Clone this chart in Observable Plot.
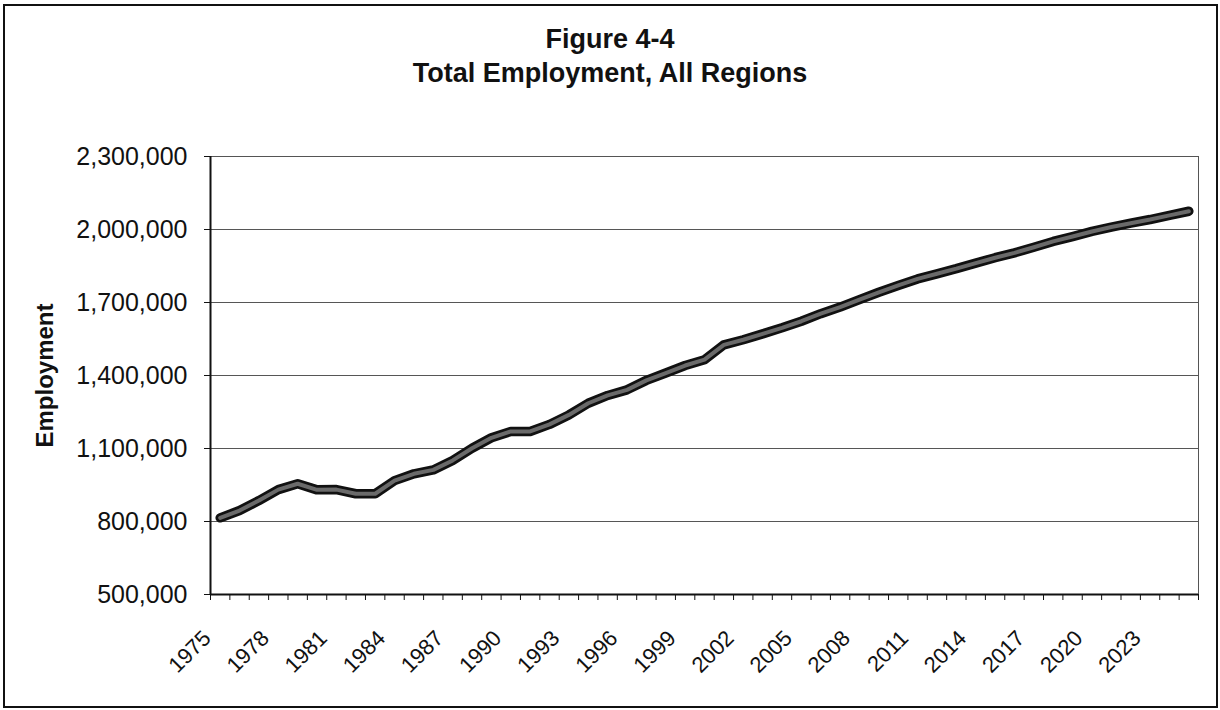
<!DOCTYPE html>
<html>
<head>
<meta charset="utf-8">
<script src="https://cdn.jsdelivr.net/npm/d3@7"></script>
<script src="https://cdn.jsdelivr.net/npm/@observablehq/plot@0.6"></script>
<style>
  html, body { margin: 0; padding: 0; background: #fff; }
  #wrap { position: relative; width: 1220px; height: 710px; overflow: hidden; font-family: "Liberation Sans", Arial, sans-serif; }
  #border { position: absolute; left: 3px; top: 4px; width: 1211px; height: 700px; border: 2px solid #111; }
  #title { position: absolute; left: 0; top: 22px; width: 1220px; text-align: center; font-weight: bold; font-size: 27px; line-height: 34px; color: #111; }
  #chart { position: absolute; left: 0; top: 110px; }
</style>
</head>
<body>
<div id="wrap">
  <div id="border"></div>
  <div id="title">Figure 4-4<br>Total Employment, All Regions</div>
  <div id="chart"></div>
</div>
<script>
const years = [1975,1976,1977,1978,1979,1980,1981,1982,1983,1984,1985,1986,1987,1988,1989,1990,1991,1992,1993,1994,1995,1996,1997,1998,1999,2000,2001,2002,2003,2004,2005,2006,2007,2008,2009,2010,2011,2012,2013,2014,2015,2016,2017,2018,2019,2020,2021,2022,2023,2024,2025];
const employment = [815000,845000,886000,931000,955000,930000,931000,914000,914000,968000,996000,1012000,1051000,1101000,1144000,1170000,1170000,1199000,1238000,1286000,1318000,1341000,1380000,1410000,1441000,1465000,1526000,1547000,1571000,1596000,1623000,1654000,1681000,1712000,1742000,1770000,1797000,1818000,1839000,1862000,1884000,1904000,1927000,1951000,1971000,1992000,2010000,2026000,2041000,2058000,2075000];
const yTicks = [500000,800000,1100000,1400000,1700000,2000000,2300000];
const xLabelYears = [1975,1978,1981,1984,1987,1990,1993,1996,1999,2002,2005,2008,2011,2014,2017,2020,2023];
const yLabel = "Employment";

const data = years.map((y, i) => ({year: y, value: employment[i]}));
// category boundaries (Excel-style ticks between categories)
const boundaries = years.map(y => y - 0.5).concat([years[years.length - 1] + 0.5]);
const xDomain = [boundaries[0], boundaries[boundaries.length - 1]];
const yDomain = [yTicks[0], yTicks[yTicks.length - 1]];
const font = "Liberation Sans, Arial, sans-serif";

const chart = Plot.plot({
  width: 1220,
  height: 600,
  marginTop: 46,
  marginBottom: 116,
  marginLeft: 210,
  marginRight: 22,
  style: {fontFamily: font, color: "#111", background: "transparent", overflow: "visible"},
  x: {type: "linear", domain: xDomain},
  y: {type: "linear", domain: yDomain},
  marks: [
    Plot.gridY(yTicks, {stroke: "#444", strokeOpacity: 0.9, strokeWidth: 1}),
    Plot.frame({stroke: "#555", strokeWidth: 1}),
    Plot.axisY(yTicks, {
      tickSize: 6, tickPadding: 17, tickFormat: d3.format(","),
      fontSize: 25, label: null, stroke: "#111", fill: "#111"
    }),
    Plot.axisX(boundaries, {tickSize: 6, tickFormat: () => "", label: null, stroke: "#111"}),
    Plot.ruleX([xDomain[0]], {stroke: "#111", strokeWidth: 2}),
    Plot.ruleY([yDomain[0]], {stroke: "#111", strokeWidth: 2}),
    Plot.text(xLabelYears, {
      x: d => d, text: d => String(d), frameAnchor: "bottom", dy: 45, dx: -8, rotate: -45,
      textAnchor: "end", lineAnchor: "bottom", fontSize: 22, fill: "#111"
    }),
    Plot.text([yLabel], {
      frameAnchor: "left", dx: -165, rotate: -90, fontSize: 24,
      fontWeight: "bold", fill: "#111", textAnchor: "middle"
    }),
    Plot.line(data, {x: "year", y: "value", stroke: "#111", strokeWidth: 9.5, strokeLinejoin: "round", strokeLinecap: "round"}),
    Plot.line(data, {x: "year", y: "value", stroke: "#6a6a6a", strokeWidth: 4, strokeLinejoin: "round", strokeLinecap: "round"})
  ]
});
document.getElementById("chart").appendChild(chart);
</script>
</body>
</html>
